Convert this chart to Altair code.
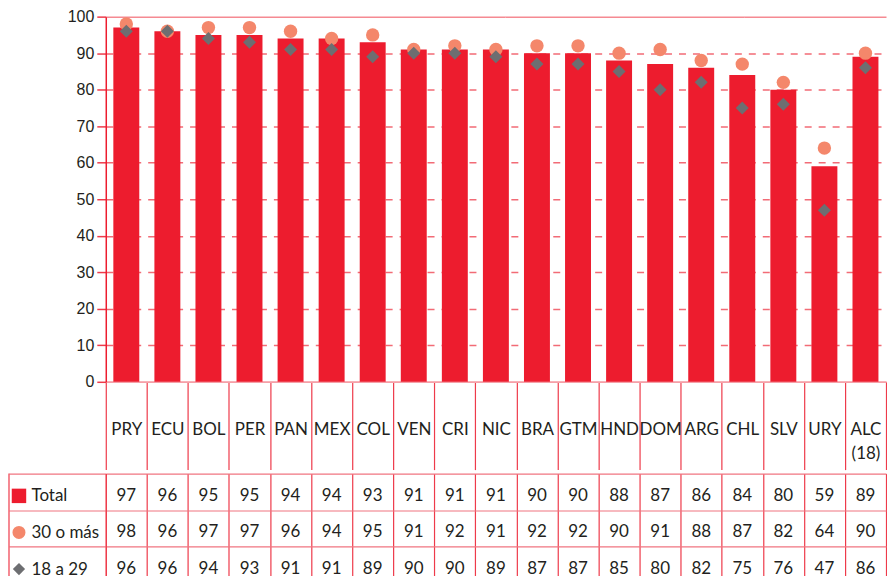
import altair as alt
import pandas as pd

# ---- data ----
countries = ["PRY", "ECU", "BOL", "PER", "PAN", "MEX", "COL", "VEN", "CRI", "NIC",
             "BRA", "GTM", "HND", "DOM", "ARG", "CHL", "SLV", "URY", "ALC (18)"]
total = [97, 96, 95, 95, 94, 94, 93, 91, 91, 91, 90, 90, 88, 87, 86, 84, 80, 59, 89]
mas30 = [98, 96, 97, 97, 96, 94, 95, 91, 92, 91, 92, 92, 90, 91, 88, 87, 82, 64, 90]
a18_29 = [96, 96, 94, 93, 91, 91, 89, 90, 90, 89, 87, 87, 85, 80, 82, 75, 76, 47, 86]
row_labels = ["Total", "30 o más", "18 a 29"]
y_ticks = [0, 10, 20, 30, 40, 50, 60, 70, 80, 90, 100]

RED = "#ed1c2e"
SALMON = "#f4876b"
GRAY = "#6d6e71"
LINE = "#ee3a4a"
HLINE = "#f07480"
TEXT = "#231f20"
TFONT = "Lato"
YFONT = "Liberation Sans"

W = 782
TH = 110
ROW_SHIFT = 4

df = pd.DataFrame({"pais": countries, "total": total, "mas30": mas30, "a1829": a18_29})
long = pd.DataFrame({
    "pais": countries * 3,
    "fila": [r for r in row_labels for _ in countries],
    "valor": total + mas30 + a18_29,
})

xscale = alt.Scale(domain=countries, paddingInner=0, paddingOuter=0)
yscale = alt.Scale(domain=[0, 100], nice=False)

x_top_axis = alt.Axis(title=None, orient="bottom", labelAngle=0, labelFont=TFONT,
                      labelFontSize=17, labelColor=TEXT, labelPadding=-48,
                      labelLineHeight=24,
                      labelExpr="datum.value ? split(datum.value, ' ') : ''",
                      tickBand="extent", tickSize=88, tickColor=LINE, tickWidth=1.2,
                      domainColor="#f5a0a8", domainWidth=1.5, grid=False)
y_top_axis = alt.Axis(title=None, values=y_ticks, labelFont=YFONT, labelFontSize=16,
                      labelColor=TEXT, labelPadding=3, tickSize=9, tickColor=LINE,
                      tickWidth=1.5, domainColor=RED, domainWidth=1.5,
                      grid=True, labelOverlap=False,
                      gridColor=alt.condition("datum.value == 100 || datum.value == 0",
                                              alt.value("#f58a92"), alt.value("#f26b76")),
                      gridDash=alt.condition("datum.value == 100 || datum.value == 0",
                                             alt.value([10, 0]), alt.value([7, 7])),
                      gridWidth=1.5)

# ---- top: bars + markers ----
base = alt.Chart(df)
bars = base.mark_bar(color=RED, width=26).encode(
    x=alt.X("pais:N", sort=countries, scale=xscale, axis=x_top_axis),
    y=alt.Y("total:Q", scale=yscale, axis=y_top_axis),
)
circ = base.mark_point(shape="circle", filled=True, size=180, color=SALMON, opacity=1).encode(
    x=alt.X("pais:N", sort=countries, scale=xscale, axis=x_top_axis),
    y=alt.Y("mas30:Q", scale=yscale, axis=y_top_axis),
)
diam = base.mark_point(shape="diamond", filled=True, size=170, color=GRAY, opacity=1).encode(
    x=alt.X("pais:N", sort=countries, scale=xscale, axis=x_top_axis),
    y=alt.Y("a1829:Q", scale=yscale, axis=y_top_axis),
)
top = alt.layer(bars, circ, diam).properties(width=W, height=366)

# ---- bottom: data table ----
ysc = alt.Scale(domain=row_labels, paddingInner=0, paddingOuter=0)
x_tab_axis = alt.Axis(title=None, labels=False, ticks=False, domain=False, grid=True,
                      tickBand="extent", gridColor=LINE, gridWidth=1.2)
y_tab_axis = alt.Axis(title=None, orient="left", labelAlign="left", labelPadding=-22,
                      labelOffset=ROW_SHIFT,
                      tickSize=97, tickBand="extent", tickColor=HLINE, tickWidth=1.2,
                      grid=True, gridColor=HLINE, gridWidth=1.2,
                      domain=True, domainColor=LINE, domainWidth=1.2,
                      labelFont=TFONT, labelFontSize=17, labelColor=TEXT)

txt = alt.Chart(long).mark_text(font=TFONT, fontSize=17, color=TEXT, dy=ROW_SHIFT).encode(
    x=alt.X("pais:N", sort=countries, scale=xscale, axis=x_tab_axis),
    y=alt.Y("fila:N", sort=row_labels, scale=ysc, axis=y_tab_axis),
    text=alt.Text("valor:Q"),
)

def symbol(row, shape, color, size):
    return alt.Chart(pd.DataFrame({"fila": [row]})).mark_point(
        shape=shape, filled=True, size=size, color=color, opacity=1, yOffset=ROW_SHIFT
    ).encode(x=alt.value(-87), y=alt.Y("fila:N", sort=row_labels, scale=ysc, axis=y_tab_axis))

border = alt.Chart(pd.DataFrame({"fila": [row_labels[0]]})).mark_rule(
    color=LINE, strokeWidth=1.2
).encode(x=alt.value(-97), y=alt.value(0), y2=alt.value(TH))

table = alt.layer(
    border,
    symbol(row_labels[0], "square", RED, 210),
    symbol(row_labels[1], "circle", SALMON, 170),
    symbol(row_labels[2], "diamond", GRAY, 150),
    txt,
).properties(width=W, height=TH)

chart = alt.vconcat(top, table, spacing=-6).properties(padding=0).configure_view(stroke=None)

chart.save("out.html", embed_options={"renderer": "svg", "actions": False})
